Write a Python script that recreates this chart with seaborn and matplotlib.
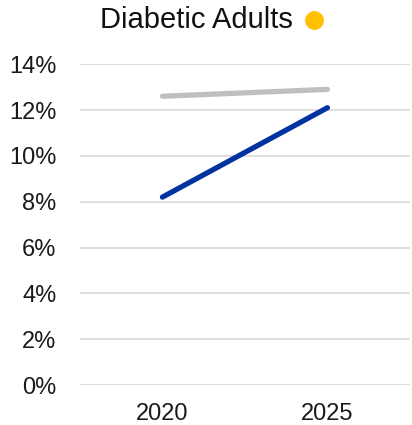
import pandas as pd
import seaborn as sns
import matplotlib.pyplot as plt
from matplotlib.lines import Line2D
from matplotlib.ticker import PercentFormatter

years = ['2020', '2025']
diabetic = [8.2, 12.1]
benchmark = [12.6, 12.9]
y_ticks = [0, 2, 4, 6, 8, 10, 12, 14]

df = pd.DataFrame({
    'Year': years * 2,
    'Rate': benchmark + diabetic,
    'Series': ['Benchmark'] * 2 + ['Diabetic Adults'] * 2,
})

sns.set_style('white')
plt.rcParams['font.family'] = ['Liberation Sans', 'DejaVu Sans']

fig = plt.figure(figsize=(4.12, 4.25), dpi=100)
ax = fig.add_axes([0.194, 0.094, 0.801, 0.755])

sns.lineplot(data=df, x='Year', y='Rate', hue='Series',
             palette={'Benchmark': '#BFBFBF', 'Diabetic Adults': '#0033A0'},
             linewidth=3.8, legend=False, ax=ax)
for line in ax.lines:
    line.set_solid_capstyle('round')

ax.set_xlim(-0.5, 1.5)
ax.set_ylim(0, 14)
ax.set_yticks(y_ticks)
ax.yaxis.set_major_formatter(PercentFormatter(decimals=0))
ax.grid(axis='y', color='#D9D9D9', linewidth=1.2)
ax.set_axisbelow(True)
sns.despine(ax=ax, left=True, bottom=True)
ax.tick_params(axis='y', length=0, labelsize=17, colors='#1a1a1a', pad=17)
ax.tick_params(axis='x', length=0, labelsize=17, colors='#1a1a1a', pad=13)
ax.set_xlabel('')
ax.set_ylabel('')

fig.text(0.477, 0.953, 'Diabetic Adults', ha='center', va='center', fontsize=21, color='#111111')
fig.add_artist(Line2D([0.762], [0.953], marker='o', markersize=12.5, color='#FFC000',
                      linestyle='none', transform=fig.transFigure))

fig.savefig('out.png', dpi=100)
